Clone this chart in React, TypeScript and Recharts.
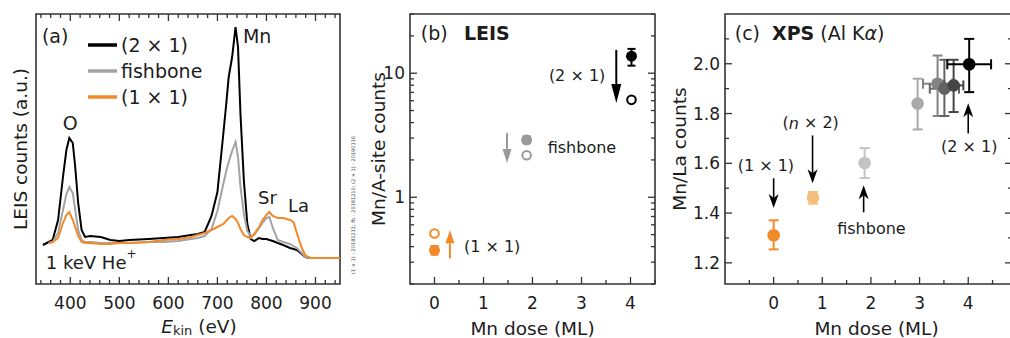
import React from 'react';
import {
  LineChart,
  Line,
  ScatterChart,
  Scatter,
  XAxis,
  YAxis,
  ErrorBar,
  ReferenceArea,
  ReferenceLine,
  ReferenceDot,
  Legend,
  Label,
} from 'recharts';

const FONT = '"DejaVu Sans", Verdana, sans-serif';
const INK = '#1c1c1c';
const FRAME = '#333333';
const ORANGE = '#f28a2a';

// ---- (a) LEIS spectra, heights in arbitrary units ----
const energies = [
  344, 356, 364, 375, 385, 392, 398, 405, 410, 416, 423, 430, 441, 462, 482, 500, 520, 560, 590, 620,
  646, 660, 674, 688, 700, 712, 718, 723, 730, 737, 742, 747, 754, 761, 768, 775, 785, 792, 800, 806,
  813, 823, 834, 848, 855, 862, 872, 879, 890, 910, 950,
];
const counts2x1 = [
  39, 42, 44, 64, 107, 134, 146, 141, 117, 81, 54, 47, 48, 47, 44, 43, 44, 45, 46, 47,
  49, 50, 52, 68, 92, 150, 180, 207, 227, 257, 237, 170, 103, 60, 45, 43, 46, 45, 45, 44,
  43, 41, 39, 36, 35, 34, 30, 27, 26, 26, 26,
];
const countsFishbone = [
  null, 41, 42, 51, 74, 90, 97, 91, 74, 54, 44, 42, 42, 41, 41, 41, 41, 42, 42, 43,
  45, 46, 48, 55, 73, 100, 113, 122, 133, 142, 127, 97, 70, 53, 48, 49, 56, 61, 66, 67,
  56, 44, 42, 40, 38, 36, 31, 27, 26, 26, 26,
];
const counts1x1 = [
  null, 41, 42, 46, 61, 69, 72, 64, 57, 48, 42, 41, 41, 40, 40, 41, 41, 42, 44, 45,
  47, 49, 51, 54, 57, 60, 63, 66, 68, 65, 61, 55, 49, 47, 46, 50, 57, 64, 69, 72,
  68, 66, 66, 64, 62, 51, 36, 29, 26, 26, 26,
];
const energyTicks = [
  340, 360, 380, 400, 420, 440, 460, 480, 500, 520, 540, 560, 580, 600, 620, 640, 660, 680, 700,
  720, 740, 760, 780, 800, 820, 840, 860, 880, 900, 920, 940,
];
const energyLabels = [400, 500, 600, 700, 800, 900];
const legendOrder = ['(2 × 1)', 'fishbone', '(1 × 1)'];

const spectra = energies.map((E, i) => ({
  E,
  s2x1: counts2x1[i],
  fish: countsFishbone[i],
  s1x1: counts1x1[i],
}));

// ---- (b) LEIS Mn/A-site ratio ----
const leisDose = [0, 1.88, 4.02];
const leisBefore = [0.374, 2.9, 13.7];
const leisBeforeLo = [0.345, 2.72, 11.5];
const leisBeforeHi = [0.405, 3.1, 15.7];
const leisAfter = [0.51, 2.18, 6.1];
const leisColors = [ORANGE, '#9a9a9a', '#000000'];
const doseTicks = [-0.5, 0, 0.5, 1, 1.5, 2, 2.5, 3, 3.5, 4, 4.5];
const doseLabels = [0, 1, 2, 3, 4];
const logTicks = [0.2, 0.3, 0.4, 0.5, 0.6, 0.7, 0.8, 0.9, 1, 2, 3, 4, 5, 6, 7, 8, 9, 10, 20, 30];
const logLabels = [1, 10];

// ---- (c) XPS Mn/La ratio ----
const xpsDose = [0, 0.81, 1.87, 2.96, 3.37, 3.51, 3.7, 4.02];
const xpsRatio = [1.311, 1.462, 1.601, 1.84, 1.92, 1.9, 1.913, 1.998];
const xpsLo = [1.254, 1.438, 1.541, 1.736, 1.79, 1.79, 1.806, 1.886];
const xpsHi = [1.371, 1.485, 1.661, 1.94, 2.033, 2.016, 2.016, 2.1];
const xpsDoseErr = [0, 0, 0, 0, 0.3, 0.3, 0.2, 0.45];
const xpsColors = [ORANGE, '#f5bd7c', '#c4c4c4', '#a9a9a9', '#838383', '#626262', '#454545', '#000000'];
const ratioTicks = [1.2, 1.3, 1.4, 1.5, 1.6, 1.7, 1.8, 1.9, 2.0, 2.1];
const ratioLabels = [1.2, 1.4, 1.6, 1.8, 2.0];

const leisPoints = leisDose.map((x, i) => ({
  x,
  y: leisBefore[i],
  ey: [leisBefore[i] - leisBeforeLo[i], leisBeforeHi[i] - leisBefore[i]],
  open: leisAfter[i],
}));
const xpsPoints = xpsDose.map((x, i) => ({
  x,
  y: xpsRatio[i],
  ey: [xpsRatio[i] - xpsLo[i], xpsHi[i] - xpsRatio[i]],
  ex: xpsDoseErr[i],
}));

// inward ticks, drawn by hand so minors/majors and the mirrored side match
function xTick(majors: number[], fmt: (v: number) => string, frameH: number, mirror: boolean) {
  return (p: any) => {
    const v = p.payload.value;
    const major = majors.includes(v);
    const len = major ? 7 : 4;
    return (
      <g>
        <line x1={p.x} x2={p.x} y1={p.y} y2={p.y - len} stroke={FRAME} strokeWidth={1.3} />
        {mirror && (
          <line x1={p.x} x2={p.x} y1={p.y - frameH} y2={p.y - frameH + len} stroke={FRAME} strokeWidth={1.3} />
        )}
        {major && (
          <text x={p.x} y={p.y + 19} textAnchor="middle" dominantBaseline="central" fontSize={17} fill={INK} fontFamily={FONT}>
            {fmt(v)}
          </text>
        )}
      </g>
    );
  };
}

function yTick(majors: number[], fmt: (v: number) => string, frameW: number) {
  return (p: any) => {
    const v = p.payload.value;
    const major = majors.includes(v);
    const len = major ? 7 : 4;
    return (
      <g>
        <line x1={p.x} x2={p.x + len} y1={p.y} y2={p.y} stroke={FRAME} strokeWidth={1.3} />
        <line x1={p.x + frameW} x2={p.x + frameW - len} y1={p.y} y2={p.y} stroke={FRAME} strokeWidth={1.3} />
        {major && (
          <text x={p.x - 5} y={p.y} textAnchor="end" dominantBaseline="central" fontSize={17} fill={INK} fontFamily={FONT}>
            {fmt(v)}
          </text>
        )}
      </g>
    );
  };
}

const yTitle = (text: string, dx: number) => (p: any) => {
  const vb = p.viewBox;
  const cx = vb.x + dx;
  const cy = vb.y + vb.height / 2;
  return (
    <text x={cx} y={cy} transform={`rotate(-90 ${cx} ${cy})`} textAnchor="middle" dominantBaseline="central" fontSize={18.5} fill={INK} fontFamily={FONT}>
      {text}
    </text>
  );
};

const xTitle = (children: React.ReactNode, dx: number, dy = 44) => (p: any) => {
  const vb = p.viewBox;
  return (
    <text x={vb.x + vb.width / 2 + dx} y={vb.y + dy} textAnchor="middle" dominantBaseline="central" fontSize={18.5} fill={INK} fontFamily={FONT}>
      {children}
    </text>
  );
};

const arrow = (color: string, headLen: number, half: number, notch: number, width = 1.6) => (p: any) => {
  const { x1, y1, x2, y2 } = p;
  const L = Math.hypot(x2 - x1, y2 - y1) || 1;
  const ux = (x2 - x1) / L;
  const uy = (y2 - y1) / L;
  const bx = x2 - ux * headLen;
  const by = y2 - uy * headLen;
  const nx = -uy;
  const ny = ux;
  const mx = bx + ux * notch;
  const my = by + uy * notch;
  return (
    <g>
      <line x1={x1} y1={y1} x2={mx} y2={my} stroke={color} strokeWidth={width} />
      <path
        d={`M${x2},${y2} L${bx + nx * half},${by + ny * half} L${mx},${my} L${bx - nx * half},${by - ny * half} Z`}
        fill={color}
      />
    </g>
  );
};

const note = (children: React.ReactNode, anchor: 'start' | 'middle' | 'end', size = 16, weight = 400) => (p: any) => (
  <text x={p.cx} y={p.cy} textAnchor={anchor} dominantBaseline="central" fontSize={size} fontWeight={weight} fill={INK} fontFamily={FONT}>
    {children}
  </text>
);

const renderLegend = (props: any) => {
  const items = props.payload || [];
  return (
    <div style={{ fontFamily: FONT, fontSize: 19, color: INK, lineHeight: '26px' }}>
      {legendOrder.map((name) => {
        const item = items.find((it: any) => it.value === name);
        return (
          <div key={name} style={{ display: 'flex', alignItems: 'center', height: 26 }}>
            <svg width={29} height={6} style={{ marginRight: 4 }}>
              <line x1={0} x2={29} y1={3} y2={3} stroke={item ? item.color : '#000'} strokeWidth={3.5} />
            </svg>
            <span>{name}</span>
          </div>
        );
      })}
    </div>
  );
};

function PanelA() {
  return (
    <LineChart width={350} height={338} data={spectra} margin={{ top: 14, right: 10, bottom: 0, left: 0 }}>
      <XAxis
        type="number"
        dataKey="E"
        domain={[330, 950]}
        ticks={energyTicks}
        interval={0}
        allowDataOverflow
        axisLine={false}
        tickLine={false}
        tickSize={0}
        tickMargin={0}
        height={54}
        tick={xTick(energyLabels, (v) => String(v), 270, true)}
      >
        <Label
          content={xTitle(
            <>
              <tspan fontStyle="italic">E</tspan>
              <tspan fontSize={13} dy={4}>kin</tspan>
              <tspan dy={-4}> (eV)</tspan>
            </>,
            11,
            42,
          )}
        />
      </XAxis>
      <YAxis type="number" domain={[0, 270]} width={36} tick={false} axisLine={false} tickLine={false}>
        <Label content={yTitle('LEIS counts (a.u.)', 20)} />
      </YAxis>
      <ReferenceArea x1={330} x2={950} y1={0} y2={270} fill="none" fillOpacity={0} stroke={FRAME} strokeWidth={1.6} />
      <Line dataKey="s2x1" name="(2 × 1)" stroke="#000000" strokeWidth={2} dot={false} isAnimationActive={false} />
      <Line dataKey="fish" name="fishbone" stroke="#a3a3a3" strokeWidth={2} dot={false} isAnimationActive={false} />
      <Line dataKey="s1x1" name="(1 × 1)" stroke={ORANGE} strokeWidth={2} dot={false} isAnimationActive={false} />
      <Legend
        layout="vertical"
        align="center"
        verticalAlign="middle"
        content={renderLegend}
        wrapperStyle={{ left: 88, top: 32, width: 'auto', height: 'auto' }}
      />
      <ReferenceDot x={342} y={248} shape={note('(a)', 'start', 19)} />
      <ReferenceDot x={400} y={161} shape={note('O', 'middle', 19)} />
      <ReferenceDot x={752} y={248} shape={note('Mn', 'start', 19)} />
      <ReferenceDot x={783} y={87} shape={note('Sr', 'start', 18)} />
      <ReferenceDot x={844} y={79} shape={note('La', 'start', 18)} />
      <ReferenceDot
        x={350}
        y={22}
        shape={note(
          <>
            1 keV He<tspan fontSize={12} dy={-8}>+</tspan>
          </>,
          'start',
          18,
        )}
      />
    </LineChart>
  );
}

function PanelB() {
  return (
    <ScatterChart width={330} height={338} margin={{ top: 14, right: 15, bottom: 0, left: 0 }}>
      <XAxis
        type="number"
        dataKey="x"
        domain={[-0.5, 4.5]}
        ticks={doseTicks.slice(1)}
        interval={0}
        allowDataOverflow
        axisLine={false}
        tickLine={false}
        tickSize={0}
        tickMargin={0}
        height={54}
        tick={xTick(doseLabels, (v) => String(v), 270, false)}
      >
        <Label content={xTitle('Mn dose (ML)', 0)} />
      </XAxis>
      <YAxis
        type="number"
        dataKey="y"
        scale="log"
        domain={[0.2, 30]}
        ticks={logTicks}
        interval={0}
        allowDataOverflow
        width={70}
        axisLine={false}
        tickLine={false}
        tickSize={0}
        tickMargin={0}
        tick={yTick(logLabels, (v) => String(v), 245)}
      >
        <Label content={yTitle('Mn/A-site counts', 38)} />
      </YAxis>
      <ReferenceArea x1={-0.5} x2={4.5} y1={0.2} y2={30} fill="none" fillOpacity={0} stroke={FRAME} strokeWidth={1.6} />
      {leisPoints.map((pt, i) => (
        <Scatter
          key={'f' + i}
          data={[pt]}
          isAnimationActive={false}
          shape={(p: any) => <circle cx={p.cx} cy={p.cy} r={5.5} fill={leisColors[i]} />}
        >
          <ErrorBar dataKey="ey" direction="y" width={4} stroke={leisColors[i]} strokeWidth={2} />
        </Scatter>
      ))}
      {leisPoints.map((pt, i) => (
        <Scatter
          key={'o' + i}
          data={[{ x: pt.x, y: pt.open }]}
          isAnimationActive={false}
          shape={(p: any) => <circle cx={p.cx} cy={p.cy} r={4.3} fill="#fff" stroke={leisColors[i]} strokeWidth={2} />}
        />
      ))}
      <ReferenceLine segment={[{ x: 3.71, y: 15.4 }, { x: 3.71, y: 5.76 }]} shape={arrow('#000', 19, 5, 0, 2)} />
      <ReferenceLine segment={[{ x: 1.48, y: 3.3 }, { x: 1.48, y: 1.89 }]} shape={arrow('#9a9a9a', 14, 4.5, 0, 2)} />
      <ReferenceLine segment={[{ x: 0.315, y: 0.322 }, { x: 0.315, y: 0.542 }]} shape={arrow(ORANGE, 13, 4.5, 0, 2)} />
      <ReferenceDot x={-0.28} y={21.1} shape={note('(b)', 'start', 19)} />
      <ReferenceDot x={0.6} y={21.1} shape={note('LEIS', 'start', 19, 700)} />
      <ReferenceDot x={2.91} y={9.5} shape={note('(2 × 1)', 'middle')} />
      <ReferenceDot x={2.31} y={2.51} shape={note('fishbone', 'start')} />
      <ReferenceDot x={0.6} y={0.4} shape={note('(1 × 1)', 'start')} />
    </ScatterChart>
  );
}

function PanelC() {
  return (
    <ScatterChart width={345} height={338} margin={{ top: 14, right: 3, bottom: 0, left: 0 }}>
      <XAxis
        type="number"
        dataKey="x"
        domain={[-1, 4.9]}
        ticks={doseTicks}
        interval={0}
        allowDataOverflow
        axisLine={false}
        tickLine={false}
        tickSize={0}
        tickMargin={0}
        height={54}
        tick={xTick(doseLabels, (v) => String(v), 270, false)}
      >
        <Label content={xTitle('Mn dose (ML)', 8)} />
      </XAxis>
      <YAxis
        type="number"
        dataKey="y"
        domain={[1.115, 2.2]}
        ticks={ratioTicks}
        interval={0}
        allowDataOverflow
        width={55}
        axisLine={false}
        tickLine={false}
        tickSize={0}
        tickMargin={0}
        tick={yTick(ratioLabels, (v) => v.toFixed(1), 287)}
      >
        <Label content={yTitle('Mn/La counts', 9)} />
      </YAxis>
      <ReferenceArea x1={-1} x2={4.9} y1={1.115} y2={2.2} fill="none" fillOpacity={0} stroke={FRAME} strokeWidth={1.6} />
      {xpsPoints.map((pt, i) => (
        <Scatter
          key={'x' + i}
          data={[pt]}
          isAnimationActive={false}
          shape={(p: any) => <circle cx={p.cx} cy={p.cy} r={6.3} fill={xpsColors[i]} />}
        >
          <ErrorBar dataKey="ey" direction="y" width={5} stroke={xpsColors[i]} strokeWidth={2} />
          {pt.ex > 0 && <ErrorBar dataKey="ex" direction="x" width={5} stroke={xpsColors[i]} strokeWidth={2} />}
        </Scatter>
      ))}
      <ReferenceLine segment={[{ x: 0, y: 1.54 }, { x: 0, y: 1.42 }]} shape={arrow('#000', 14, 5, 4)} />
      <ReferenceLine segment={[{ x: 0.8, y: 1.712 }, { x: 0.8, y: 1.52 }]} shape={arrow('#000', 14, 5, 4)} />
      <ReferenceLine segment={[{ x: 1.85, y: 1.403 }, { x: 1.85, y: 1.512 }]} shape={arrow('#000', 14, 5, 4)} />
      <ReferenceLine segment={[{ x: 4.0, y: 1.72 }, { x: 4.0, y: 1.841 }]} shape={arrow('#000', 14, 5, 4)} />
      <ReferenceDot
        x={-0.8}
        y={2.122}
        shape={note(
          <>
            (c)<tspan dx={12} fontWeight={700}>XPS</tspan>
            <tspan> (Al K</tspan>
            <tspan fontStyle="italic">α</tspan>
            <tspan>)</tspan>
          </>,
          'start',
          19,
        )}
      />
      <ReferenceDot x={-0.16} y={1.592} shape={note('(1 × 1)', 'middle')} />
      <ReferenceDot
        x={0.76}
        y={1.762}
        shape={note(
          <>
            (<tspan fontStyle="italic">n</tspan> × 2)
          </>,
          'middle',
        )}
      />
      <ReferenceDot x={2.01} y={1.339} shape={note('fishbone', 'middle')} />
      <ReferenceDot x={4.02} y={1.668} shape={note('(2 × 1)', 'middle')} />
    </ScatterChart>
  );
}

export default function App() {
  return (
    <div
      style={{
        position: 'absolute',
        left: 0,
        top: 0,
        width: 1010,
        height: 338,
        overflow: 'hidden',
        background: '#fff',
        fontFamily: FONT,
      }}
    >
      <div style={{ position: 'absolute', left: 0, top: 0 }}>
        <PanelA />
      </div>
      <div style={{ position: 'absolute', left: 340, top: 0 }}>
        <PanelB />
      </div>
      <div style={{ position: 'absolute', left: 670, top: 0 }}>
        <PanelC />
      </div>
      <div
        style={{
          position: 'absolute',
          left: 353,
          top: 205,
          fontSize: 5,
          color: '#444',
          whiteSpace: 'nowrap',
          transform: 'translate(-50%, -50%) rotate(-90deg)',
        }}
      >
        (1 × 1) - 20181211; fb - 20181210; (2 × 1) - 20190116
      </div>
    </div>
  );
}
